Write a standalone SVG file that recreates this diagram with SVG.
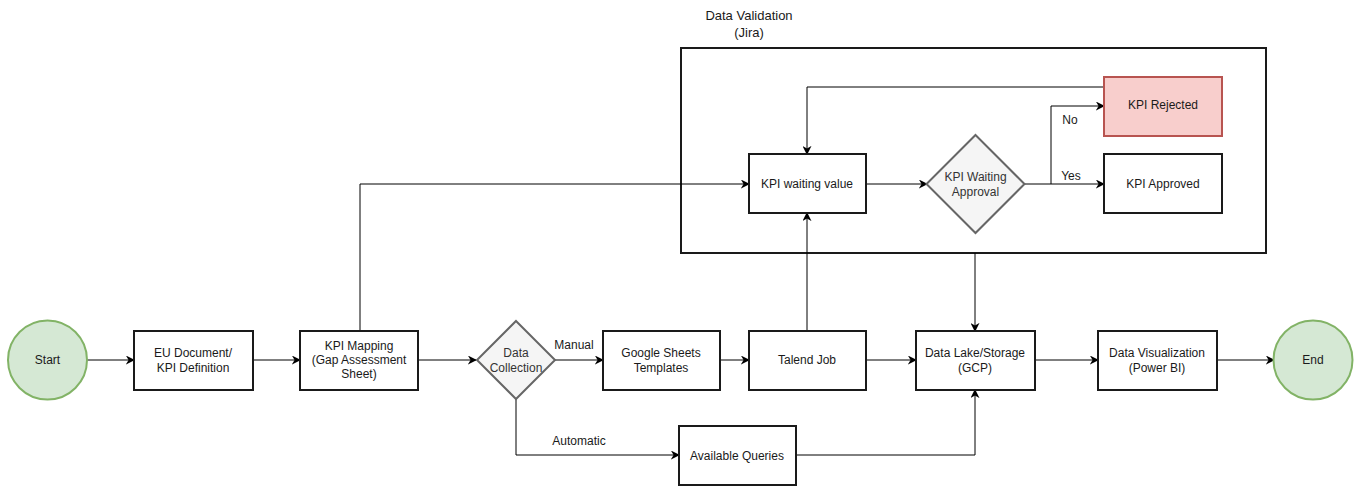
<svg xmlns="http://www.w3.org/2000/svg" width="1354" height="487" viewBox="0 0 1354 487">
<defs>
<style>
.box{fill:#fff;stroke:#1a1a1a;stroke-width:2}
.dia{fill:#f5f5f5;stroke:#666;stroke-width:2}
.term{fill:#d5e8d4;stroke:#82b366;stroke-width:2}
.rej{fill:#f8cecc;stroke:#b85450;stroke-width:2}
.cont{fill:none;stroke:#1a1a1a;stroke-width:2}
text{font-family:"Liberation Sans",Arial,sans-serif;font-size:12px;fill:#1a1a1a;text-anchor:middle}
.dt{fill:#333}
.title{font-size:13px}
.edge{fill:none;stroke:#000;stroke-width:1;marker-end:url(#arr)}
</style>
<marker id="arr" viewBox="0 0 10 10" refX="9" refY="5" markerWidth="9" markerHeight="9" markerUnits="userSpaceOnUse" orient="auto">
<path d="M0,0 L10,5 L0,10 L3,5 z" fill="#000"/>
</marker>
</defs>
<rect width="1354" height="487" fill="#fff"/>

<g id="container">
<rect class="cont" x="681" y="48" width="585" height="205"/>
<text class="title" x="749" y="20">Data Validation</text>
<text class="title" x="749" y="37">(Jira)</text>
</g>

<g id="connectors">
<path class="edge" d="M87,360 H134"/>
<path class="edge" d="M253,360 H300"/>
<path class="edge" d="M418,360 H476"/>
<path class="edge" d="M555,360 H603"/>
<path class="edge" d="M720,360 H749"/>
<path class="edge" d="M866,360 H916"/>
<path class="edge" d="M1035,360 H1098"/>
<path class="edge" d="M1217,360 H1274"/>
<path class="edge" d="M516,399 V455 H679"/>
<path class="edge" d="M796,455 H975 V390"/>
<path class="edge" d="M975,253 V331"/>
<path class="edge" d="M807,331 V213"/>
<path class="edge" d="M360,331 V184 H749"/>
<path class="edge" d="M866,184 H927"/>
<path class="edge" d="M1024,184 H1104"/>
<path class="edge" d="M1051,184 V106 H1104"/>
<path class="edge" d="M1104,87 H807 V154"/>
<text x="574" y="349">Manual</text>
<text x="579" y="445">Automatic</text>
<text x="1070" y="124">No</text>
<text x="1071" y="180">Yes</text>
</g>

<g id="start"><circle class="term" cx="47.5" cy="360" r="39.5"/><text x="47.5" y="364">Start</text></g>
<g id="eu"><rect class="box" x="134" y="331" width="119" height="59"/><text x="193" y="357">EU Document/</text><text x="193" y="372">KPI Definition</text></g>
<g id="mapping"><rect class="box" x="300" y="331" width="118" height="59"/><text x="359" y="350">KPI Mapping</text><text x="359" y="364">(Gap Assessment</text><text x="359" y="378">Sheet)</text></g>
<g id="collection"><path class="dia" d="M516,321 L555,360 L516,399 L477,360 Z"/><text class="dt" x="516" y="357">Data</text><text class="dt" x="516" y="372">Collection</text></g>
<g id="gsheets"><rect class="box" x="603" y="331" width="117" height="59"/><text x="661" y="357">Google Sheets</text><text x="661" y="372">Templates</text></g>
<g id="talend"><rect class="box" x="749" y="331" width="117" height="59"/><text x="807" y="364">Talend Job</text></g>
<g id="lake"><rect class="box" x="916" y="331" width="119" height="59"/><text x="975" y="357">Data Lake/Storage</text><text x="975" y="372">(GCP)</text></g>
<g id="viz"><rect class="box" x="1098" y="331" width="119" height="59"/><text x="1157" y="357">Data Visualization</text><text x="1157" y="372">(Power BI)</text></g>
<g id="end"><circle class="term" cx="1313" cy="360" r="39.5"/><text x="1313" y="364">End</text></g>
<g id="queries"><rect class="box" x="679" y="426" width="117" height="59"/><text x="737" y="460">Available Queries</text></g>
<g id="waiting"><rect class="box" x="749" y="154" width="117" height="59"/><text x="807" y="188">KPI waiting value</text></g>
<g id="approval"><path class="dia" d="M975.5,135 L1024.5,184 L975.5,233 L926.5,184 Z"/><text class="dt" x="975.5" y="181">KPI Waiting</text><text class="dt" x="975.5" y="196">Approval</text></g>
<g id="rejected"><rect class="rej" x="1104" y="77" width="118" height="59"/><text x="1163" y="109">KPI Rejected</text></g>
<g id="approved"><rect class="box" x="1104" y="154" width="118" height="59"/><text x="1163" y="188">KPI Approved</text></g>
</svg>
